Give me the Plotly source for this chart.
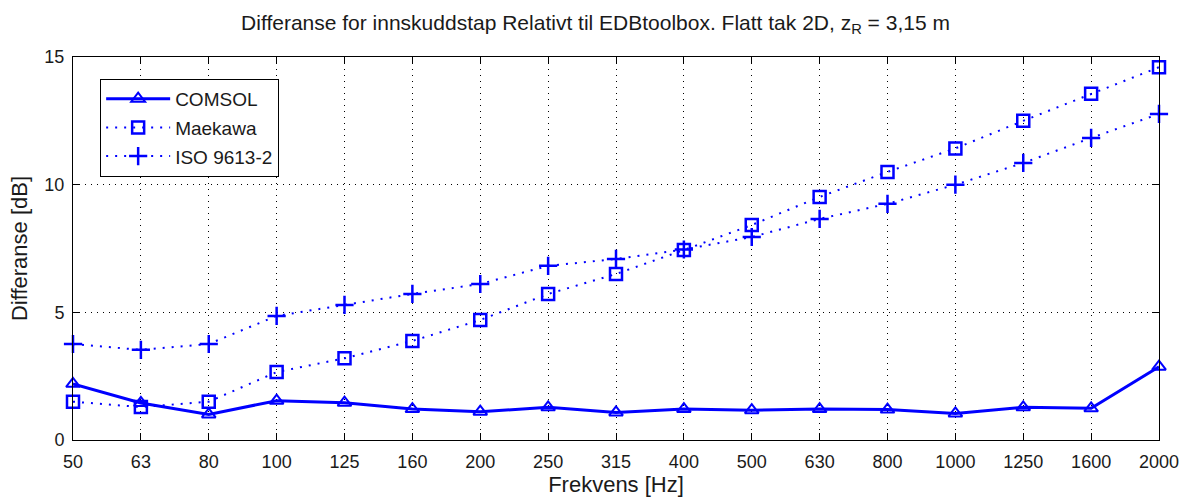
import plotly.graph_objects as go

frequencies = ["50", "63", "80", "100", "125", "160", "200", "250", "315",
               "400", "500", "630", "800", "1000", "1250", "1600", "2000"]

comsol = [2.2, 1.45, 1.0, 1.54, 1.46, 1.21, 1.11, 1.28, 1.08,
          1.21, 1.17, 1.21, 1.19, 1.04, 1.28, 1.24, 2.87]
maekawa = [1.5, 1.29, 1.5, 2.66, 3.2, 3.88, 4.7, 5.72, 6.5,
           7.44, 8.42, 9.52, 10.5, 11.42, 12.5, 13.56, 14.6]
iso9613 = [3.76, 3.53, 3.76, 4.86, 5.29, 5.72, 6.11, 6.82, 7.09,
           7.46, 7.95, 8.66, 9.25, 10.0, 10.85, 11.83, 12.77]

blue = "#0000ff"
ink = "#1a1a1a"
font = "Liberation Sans, Arial, sans-serif"

fig = go.Figure()
fig.add_trace(go.Scatter(
    x=frequencies, y=comsol, name="COMSOL", legendgroup="a", mode="lines+markers",
    line=dict(color=blue, width=3),
    marker=dict(symbol="triangle-up-open", size=12, color=blue, line=dict(width=2)),
    cliponaxis=False))
fig.add_trace(go.Scatter(
    x=frequencies, y=maekawa, name="Maekawa", legendgroup="b", mode="lines+markers",
    line=dict(color=blue, width=2, dash="2px,7px"),
    marker=dict(symbol="square-open", size=12, color=blue, line=dict(width=2.5)),
    cliponaxis=False))
fig.add_trace(go.Scatter(
    x=frequencies, y=iso9613, name="ISO 9613-2", legendgroup="c", mode="lines+markers",
    line=dict(color=blue, width=2, dash="2px,7px"),
    marker=dict(symbol="cross-thin-open", size=13, color=blue, line=dict(width=2.5, color=blue)),
    cliponaxis=False))

axis_common = dict(
    showline=True, linecolor="black", linewidth=1, mirror="ticks",
    ticks="inside", ticklen=7, tickcolor="black",
    showgrid=True, gridcolor="black", gridwidth=1, griddash="1px,5px",
    zeroline=False, tickfont=dict(family=font, size=18, color=ink),
)

fig.update_xaxes(type="category", range=[0, 16], ticklabelstandoff=5, title=dict(
    text="Frekvens [Hz]", font=dict(family=font, size=22, color=ink), standoff=4),
    **axis_common)
fig.update_yaxes(range=[0, 15], tickvals=[0, 5, 10, 15], ticklabelstandoff=4, title=dict(
    text="Differanse [dB]", font=dict(family=font, size=22, color=ink), standoff=10),
    **axis_common)

fig.update_layout(
    width=1191, height=503,
    margin=dict(l=73, r=28, t=57, b=63),
    plot_bgcolor="white", paper_bgcolor="white",
    title=dict(text="Differanse for innskuddstap Relativt til EDBtoolbox. Flatt tak 2D, z<sub>R</sub> = 3,15 m",
               x=0.5, xanchor="center", y=0.955, yanchor="middle",
               font=dict(family=font, size=21, color=ink)),
    legend=dict(x=0.025, y=0.943, xanchor="left", yanchor="top",
                bordercolor="black", borderwidth=1, bgcolor="white",
                itemwidth=64, traceorder="grouped", tracegroupgap=1,
                font=dict(family=font, size=19, color=ink)),
    showlegend=True,
)

fig.write_html("out.html")
